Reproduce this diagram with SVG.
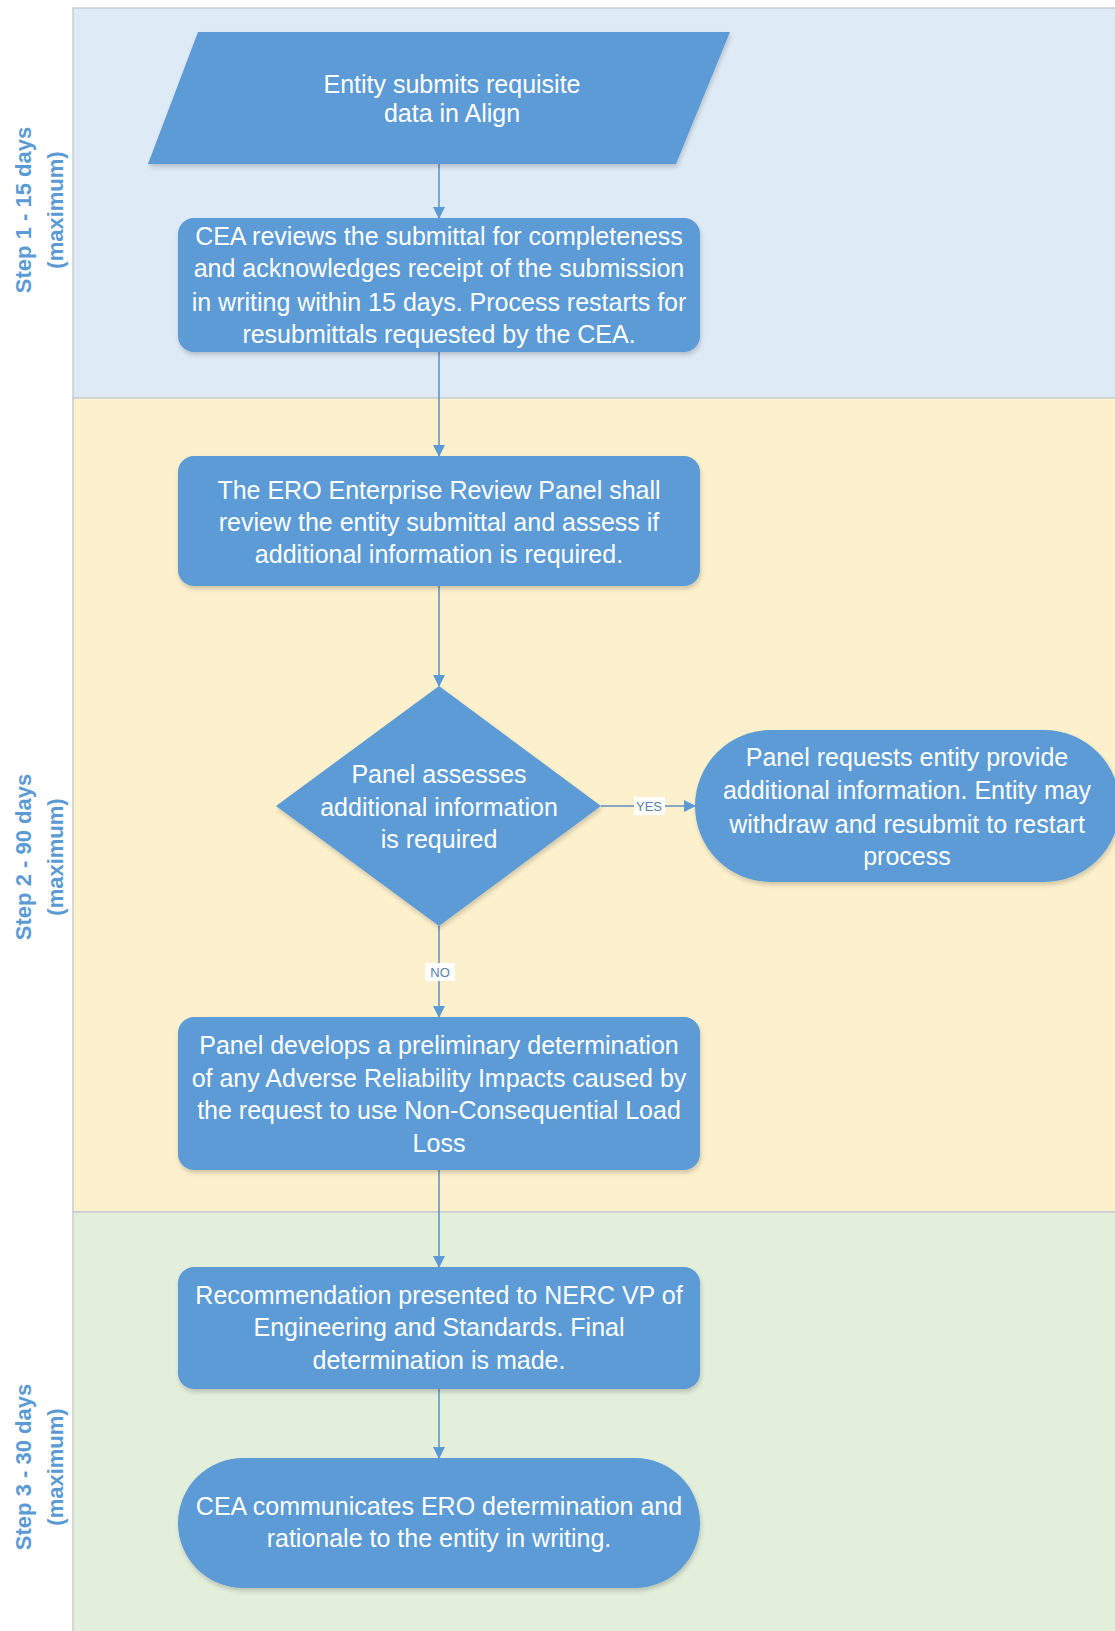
<svg xmlns="http://www.w3.org/2000/svg" width="1115" height="1631" viewBox="0 0 1115 1631">
<style>
.lane{stroke:#c9cdd2;stroke-width:1.5}
.node{fill:#5b9bd5;filter:url(#sh)}
.t{font-family:"Liberation Sans",Arial,sans-serif;font-size:25px;fill:#ffffff;text-anchor:middle}
.lbl{font-family:"Liberation Sans",Arial,sans-serif;font-size:22px;font-weight:bold;fill:#5b9bd5;text-anchor:middle}
.conn{stroke:#5b8fc6;stroke-width:1.5;fill:none;marker-end:url(#ah)}
.cl{font-family:"Liberation Sans",Arial,sans-serif;font-size:13px;fill:#5a7fa8;text-anchor:middle}
</style>
<defs>
<marker id="ah" markerWidth="12" markerHeight="12" refX="11" refY="6" orient="auto" markerUnits="userSpaceOnUse">
<path d="M0,0 L12,6 L0,12 Z" fill="#5b9bd5"/>
</marker>
<filter id="sh" x="-10%" y="-10%" width="120%" height="130%">
<feDropShadow dx="1" dy="3" stdDeviation="2" flood-color="#000" flood-opacity="0.18"/>
</filter>
</defs>
<rect width="1115" height="1631" fill="#ffffff"/>
<g id="lanes">
<rect class="lane" x="73" y="8" width="1050" height="390" fill="#deeaf6"/>
<rect class="lane" x="73" y="398" width="1050" height="814" fill="#fdf0cc"/>
<rect class="lane" x="73" y="1212" width="1050" height="430" fill="#e3eedb"/>
<text class="lbl" transform="translate(31,210) rotate(-90)">Step 1 - 15 days</text>
<text class="lbl" transform="translate(63,210) rotate(-90)">(maximum)</text>
<text class="lbl" transform="translate(31,857) rotate(-90)">Step 2 - 90 days</text>
<text class="lbl" transform="translate(63,857) rotate(-90)">(maximum)</text>
<text class="lbl" transform="translate(31,1467) rotate(-90)">Step 3 - 30 days</text>
<text class="lbl" transform="translate(63,1467) rotate(-90)">(maximum)</text>
</g>
<g id="connectors">
<line class="conn" x1="439" y1="164" x2="439" y2="218"/>
<line class="conn" x1="439" y1="352" x2="439" y2="456"/>
<line class="conn" x1="439" y1="586" x2="439" y2="686"/>
<line class="conn" x1="601" y1="806" x2="695" y2="806"/>
<line class="conn" x1="439" y1="926" x2="439" y2="1017"/>
<line class="conn" x1="439" y1="1170" x2="439" y2="1267"/>
<line class="conn" x1="439" y1="1389" x2="439" y2="1458"/>
<rect x="634" y="797" width="31" height="18" fill="#ffffff"/>
<text class="cl" x="649" y="811">YES</text>
<rect x="425" y="963" width="30" height="18" fill="#ffffff"/>
<text class="cl" x="440" y="977">NO</text>
</g>
<g id="n1">
<polygon class="node" points="198,32 730,32 676,164 148,164"/>
<text class="t" x="452" y="93">Entity submits requisite</text>
<text class="t" x="452" y="122">data in Align</text>
</g>
<g id="n2">
<rect class="node" x="178" y="218" width="522" height="134" rx="16"/>
<text class="t" x="439" y="245">CEA reviews the submittal for completeness</text>
<text class="t" x="439" y="277">and acknowledges receipt of the submission</text>
<text class="t" x="439" y="311">in writing within 15 days. Process restarts for</text>
<text class="t" x="439" y="343">resubmittals requested by the CEA.</text>
</g>
<g id="n3">
<rect class="node" x="178" y="456" width="522" height="130" rx="16"/>
<text class="t" x="439" y="499">The ERO Enterprise Review Panel shall</text>
<text class="t" x="439" y="531">review the entity submittal and assess if</text>
<text class="t" x="439" y="563">additional information is required.</text>
</g>
<g id="n4">
<polygon class="node" points="439,686 601,806 439,926 276,806"/>
<text class="t" x="439" y="783">Panel assesses</text>
<text class="t" x="439" y="816">additional information</text>
<text class="t" x="439" y="848">is required</text>
</g>
<g id="n5">
<rect class="node" x="695" y="730" width="425" height="152" rx="76"/>
<text class="t" x="907" y="766">Panel requests entity provide</text>
<text class="t" x="907" y="799">additional information. Entity may</text>
<text class="t" x="907" y="833">withdraw and resubmit to restart</text>
<text class="t" x="907" y="865">process</text>
</g>
<g id="n6">
<rect class="node" x="178" y="1017" width="522" height="153" rx="16"/>
<text class="t" x="439" y="1054">Panel develops a preliminary determination</text>
<text class="t" x="439" y="1087">of any Adverse Reliability Impacts caused by</text>
<text class="t" x="439" y="1119">the request to use Non-Consequential Load</text>
<text class="t" x="439" y="1152">Loss</text>
</g>
<g id="n7">
<rect class="node" x="178" y="1267" width="522" height="122" rx="16"/>
<text class="t" x="439" y="1304">Recommendation presented to NERC VP of</text>
<text class="t" x="439" y="1336">Engineering and Standards. Final</text>
<text class="t" x="439" y="1369">determination is made.</text>
</g>
<g id="n8">
<rect class="node" x="178" y="1458" width="522" height="130" rx="65"/>
<text class="t" x="439" y="1515">CEA communicates ERO determination and</text>
<text class="t" x="439" y="1547">rationale to the entity in writing.</text>
</g>
</svg>
